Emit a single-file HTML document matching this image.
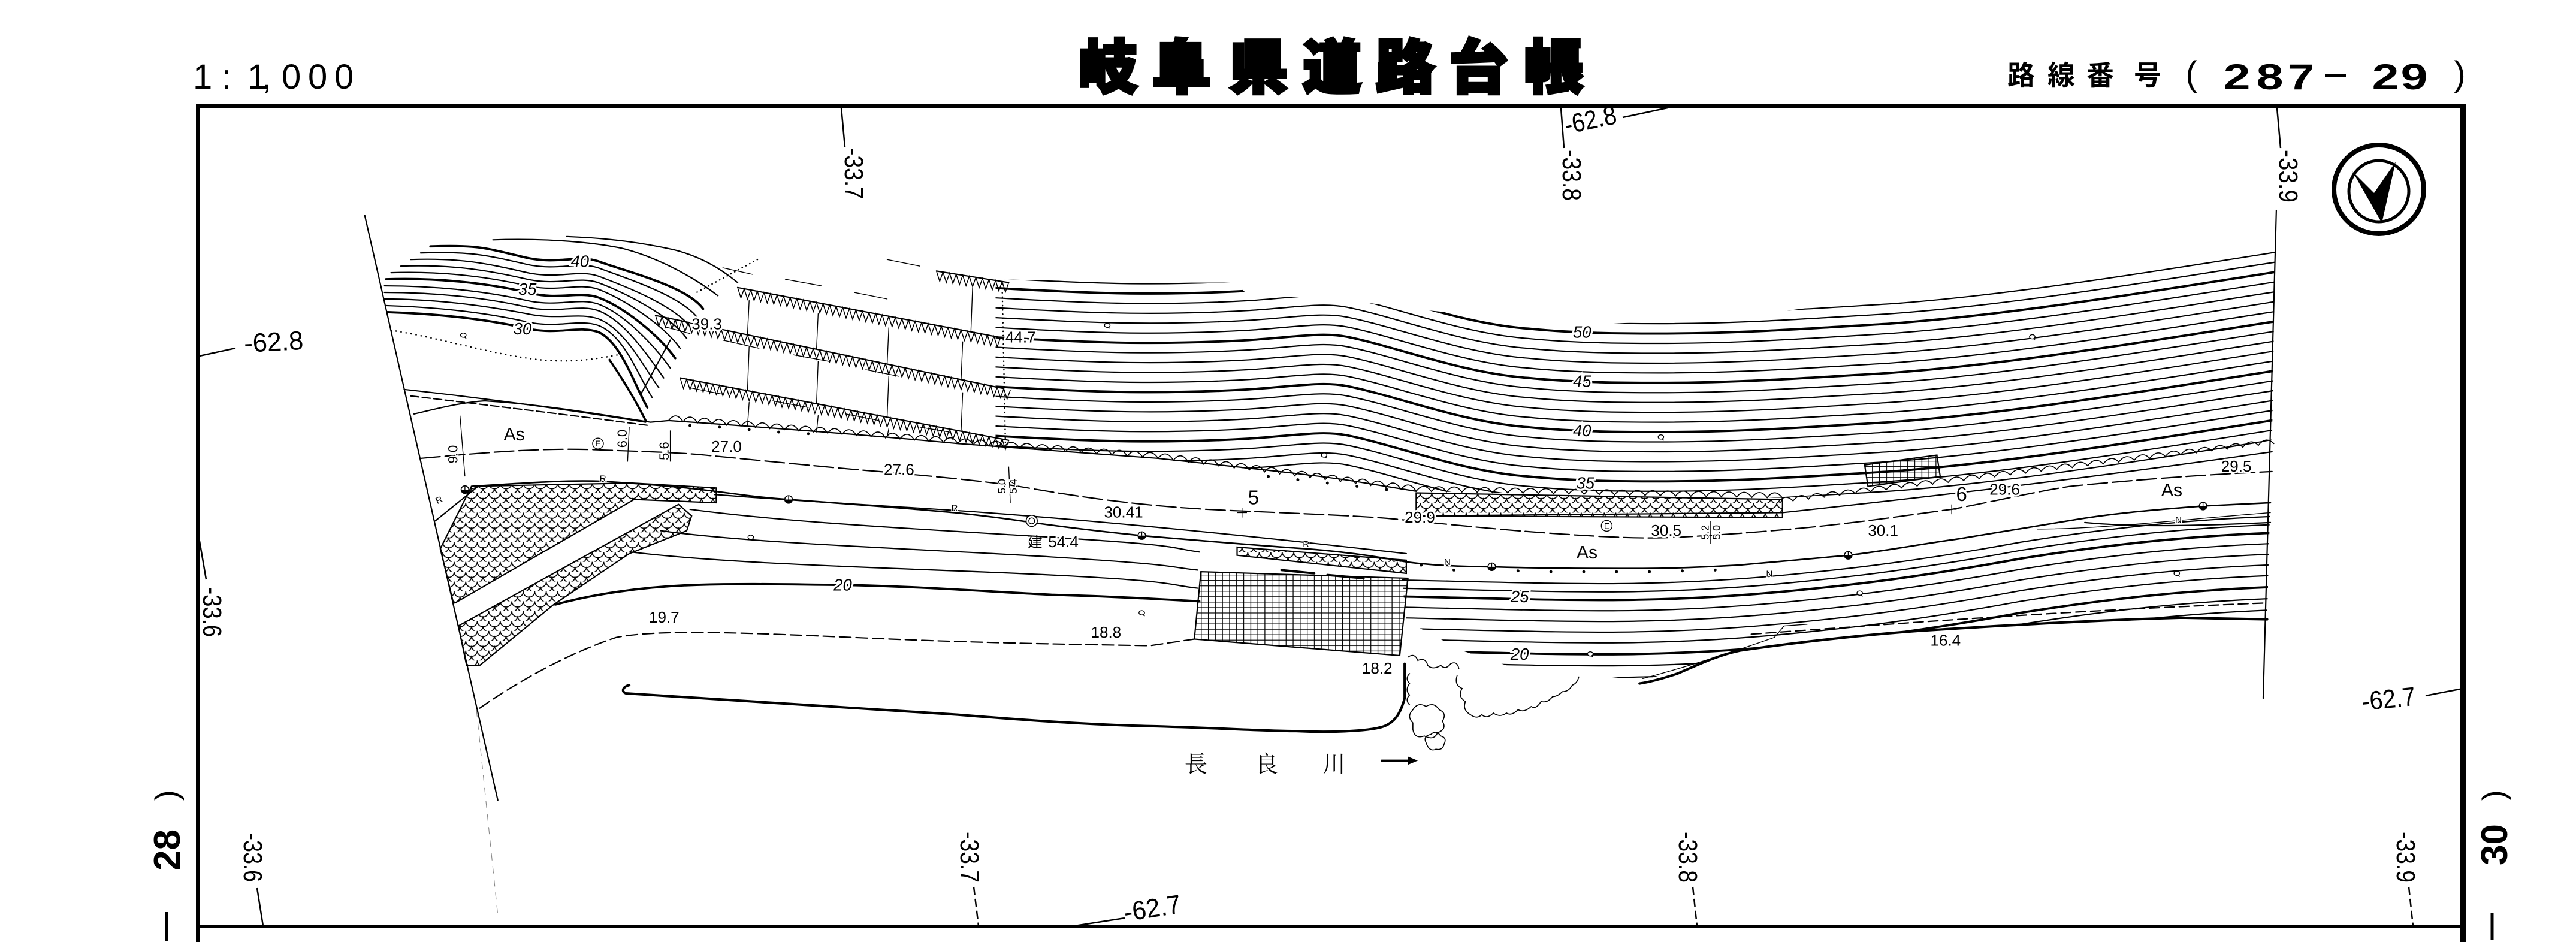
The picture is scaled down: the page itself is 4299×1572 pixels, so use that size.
<!DOCTYPE html>
<html><head><meta charset="utf-8"><title>岐阜県道路台帳</title>
<style>html,body{margin:0;padding:0;background:#fff}svg{display:block}</style>
</head><body>
<svg xmlns="http://www.w3.org/2000/svg" width="4299" height="1572" viewBox="0 0 4299 1572">
<rect width="4299" height="1572" fill="#fff"/>

<!-- ===== header ===== -->
<text y="148" font-family="'Liberation Sans',sans-serif" font-size="58" x="322 370 413 437 470 514 558">1:1,000</text>
<g font-family="'Noto Sans CJK JP','Noto Sans CJK SC',sans-serif" font-weight="900" font-size="98" text-anchor="middle" stroke="#000" stroke-width="5">
<text x="1849" y="147">岐</text><text x="1972" y="147">阜</text><text x="2100" y="147">県</text><text x="2223" y="147">道</text><text x="2345" y="147">路</text><text x="2467" y="147">台</text><text x="2593" y="147">帳</text>
</g>
<g font-family="'Liberation Sans','Noto Sans CJK JP',sans-serif" font-weight="bold" text-anchor="middle">
<g font-size="46"><text x="3373" y="142">路</text><text x="3440" y="142">線</text><text x="3505" y="142">番</text><text x="3584" y="142">号</text></g>
<g font-size="60">
<text transform="translate(3733,149) scale(1.35,1)">2</text>
<text transform="translate(3788,149) scale(1.35,1)">8</text>
<text transform="translate(3840,149) scale(1.35,1)">7</text>
<text transform="translate(3981,149) scale(1.35,1)">2</text>
<text transform="translate(4029,149) scale(1.35,1)">9</text>
</g>
<text x="3657" y="143" font-size="58" font-weight="normal">(</text>
<text x="4105" y="143" font-size="58" font-weight="normal">)</text>
</g>
<line x1="3880" y1="126" x2="3915" y2="126" stroke="#000" stroke-width="5"/>

<!-- ===== frame ===== -->
<rect x="327" y="173" width="3789" height="7" fill="#000"/>
<rect x="327" y="173" width="6" height="1399" fill="#000"/>
<rect x="4106" y="173" width="10" height="1399" fill="#000"/>
<rect x="327" y="1544" width="3789" height="5" fill="#000"/>

<!-- page numbers -->
<g font-family="'Liberation Sans',sans-serif" font-weight="bold">
<text transform="translate(300,1453) rotate(-90)" font-size="62">28</text>
<text transform="translate(296,1336) rotate(-90)" font-size="53" font-weight="normal">)</text>
<text transform="translate(4184,1444) rotate(-90)" font-size="62">30</text>
<text transform="translate(4180,1336) rotate(-90)" font-size="53" font-weight="normal">)</text>
</g>
<line x1="278" y1="1522" x2="278" y2="1570" stroke="#000" stroke-width="5"/>
<line x1="4159" y1="1523" x2="4159" y2="1568" stroke="#000" stroke-width="5"/>

<!-- grid ticks & labels -->
<g stroke="#000" stroke-width="2.5" fill="none">
<path d="M1404,180 L1410,245"/><path d="M2605,180 L2610,247"/><path d="M3800,180 L3806,247"/>
<path d="M333,594 L393,581"/><path d="M333,903 L344,967"/>
<path d="M429,1482 L439,1545"/><path d="M1625,1480 L1633,1545" stroke-dasharray="14,6"/><path d="M2825,1480 L2832,1545" stroke-dasharray="14,6"/><path d="M4020,1480 L4027,1545" stroke-dasharray="14,6"/>
<path d="M2708,196 L2783,180"/><path d="M1781,1547 L1877,1532"/><path d="M4048,1161 L4105,1150"/>
</g>
<g font-family="'Liberation Sans',sans-serif" font-size="44">
<text transform="translate(1410,247) rotate(90)" textLength="85" lengthAdjust="spacingAndGlyphs">-33.7</text>
<text transform="translate(2608,250) rotate(90)" textLength="85" lengthAdjust="spacingAndGlyphs">-33.8</text>
<text transform="translate(3804,250) rotate(90)" textLength="88" lengthAdjust="spacingAndGlyphs">-33.9</text>
<text transform="translate(339,980) rotate(90)" textLength="83" lengthAdjust="spacingAndGlyphs">-33.6</text>
<text transform="translate(407,1390) rotate(90)" textLength="82" lengthAdjust="spacingAndGlyphs">-33.6</text>
<text transform="translate(1603,1388) rotate(90)" textLength="85" lengthAdjust="spacingAndGlyphs">-33.7</text>
<text transform="translate(2802,1388) rotate(90)" textLength="85" lengthAdjust="spacingAndGlyphs">-33.8</text>
<text transform="translate(4000,1388) rotate(90)" textLength="85" lengthAdjust="spacingAndGlyphs">-33.9</text>
<text transform="translate(408,588) rotate(-3)" textLength="99" lengthAdjust="spacingAndGlyphs">-62.8</text>
<text transform="translate(2614,224) rotate(-12)" textLength="88" lengthAdjust="spacingAndGlyphs">-62.8</text>
<text transform="translate(1878,1538) rotate(-9)" textLength="96" lengthAdjust="spacingAndGlyphs">-62.7</text>
<text transform="translate(3943,1186) rotate(-6)" textLength="90" lengthAdjust="spacingAndGlyphs">-62.7</text>
</g>

<!-- north arrow -->
<ellipse cx="3970" cy="316" rx="75" ry="74" fill="none" stroke="#000" stroke-width="8"/>
<ellipse cx="3970" cy="319" rx="50" ry="51" fill="none" stroke="#000" stroke-width="5"/>
<path d="M3926,286 L3962,322 L3998,270 L3975,372 Z" fill="#000"/>

<!-- ===== drawing body (thumbnail coordinates) ===== -->
<g transform="scale(2.7417)">
<defs>
<path id="U" d="M600,222 C640,224 690,228 760,224 C790,222 805,219 820,222 C850,228 890,244 930,247 C960,250 990,250 1010,250 C1060,250 1100,247 1150,244 C1220,239 1300,226 1395,211"/>
<path id="SR" d="M850,349 C900,350 960,352 1000,351 C1050,350 1090,346 1125,342 C1160,338 1192,333 1230,326 C1280,318 1330,312 1392,310"/>
<clipPath id="cU"><polygon points="606,170 700,172 752,172 760,180 800,181 830,184 860,188 900,192 963,198 1000,196 1060,193 1110,186 1185,176 1280,162 1385,147 1383,268 1340,276 1250,290 1180,298 1085,303 862,299 825,293 705,279 606,272"/></clipPath>
<clipPath id="cS"><polygon points="852,340 1382,300 1380,377 1328,376 1168,384 1094,390 1059,397 1021,408 1000,414 920,406 890,396 856,378"/></clipPath>
<pattern id="sc" width="7" height="6" patternUnits="userSpaceOnUse">
<path d="M0,3 A3.5,3.5 0 0 0 7,3 M-3.5,6 A3.5,3.5 0 0 0 3.5,6 M3.5,6 A3.5,3.5 0 0 0 10.5,6 M-3.5,0 A3.5,3.5 0 0 0 3.5,0 M3.5,0 A3.5,3.5 0 0 0 10.5,0" fill="none" stroke="#000" stroke-width="0.6"/>
</pattern>
<pattern id="gr" width="4.3" height="3.3" patternUnits="userSpaceOnUse">
<path d="M0.2,0 V3.3 M0,0.2 H4.3" stroke="#000" stroke-width="0.5" fill="none"/>
</pattern>
<g id="q"><ellipse cx="0" cy="0" rx="1.7" ry="1.3" fill="#fff" stroke="#000" stroke-width="0.5"/><path d="M0.6,1.1 l1.2,0.9" stroke="#000" stroke-width="0.5"/></g>
<g id="m"><circle r="2.3" fill="#fff" stroke="#000" stroke-width="0.6"/><path d="M-2.3,0 A2.3,2.3 0 0 0 2.3,0 Z" fill="#000"/><path d="M0,-2.3 V0" stroke="#000" stroke-width="0.5"/></g>
<g id="e"><circle r="3.3" fill="#fff" stroke="#000" stroke-width="0.5"/><text y="1.8" font-size="5" text-anchor="middle" font-family="'Liberation Sans',sans-serif">E</text></g>
</defs>

<g fill="none" stroke="#000" stroke-width="0.8" stroke-linecap="round">
<!-- boundaries -->
<path d="M222,131 L303,487"/>
<path d="M1385.6,128 L1377.6,425"/>
<path d="M290,432 L303,557" stroke="#888" stroke-width="0.4" stroke-dasharray="4,4"/>

<!-- upper right contour band -->
<g clip-path="url(#cU)">
<use href="#U" y="-59"/><use href="#U" y="-53"/><use href="#U" y="-47" stroke-width="1.4"/><use href="#U" y="-41"/><use href="#U" y="-35"/><use href="#U" y="-29"/><use href="#U" y="-23"/><use href="#U" y="-17" stroke-width="1.4"/><use href="#U" y="-11"/><use href="#U" y="-5"/><use href="#U" y="1"/><use href="#U" y="7"/><use href="#U" y="13" stroke-width="1.4"/><use href="#U" y="19"/><use href="#U" y="25"/><use href="#U" y="31"/><use href="#U" y="37"/><use href="#U" y="43" stroke-width="1.4"/><use href="#U" y="49"/><use href="#U" y="55"/><use href="#U" y="61"/>
</g>
<path d="M610,173 L612,270" stroke-width="0.9" stroke-dasharray="0.1,2.5"/>

<!-- top-left contours -->
<path d="M300,146 C330,145 358,147 378,151 C398,156 420,167 437,180"/>
<path d="M345,144 C372,145 392,148 410,152 C426,156 438,163 449,172"/>
<path stroke-width="1.4" d="M262,150 C292,149 295,151 321,157 C340,161 352,155 364,159 C380,165 418,174 428,188"/>
<path d="M256,154 C286,153 295,155 321,161 C340,165 352,159 364,163 C380,169 415,180 425,194"/>
<path d="M250,158 C280,157 295,160 321,166 C340,170 352,164 364,168 C380,174 411,186 421,200"/>
<path d="M244,162 C274,161 295,164 321,170 C340,174 352,168 364,172 C380,178 408,192 418,206"/>
<path d="M238,166 C268,165 295,168 321,174 C340,178 352,172 364,176 C380,182 404,198 414,212"/>
<path stroke-width="1.4" d="M235,170 C265,169 295,172 321,178 C340,183 352,177 364,181 C380,187 401,204 411,218"/>
<path d="M234,174 C264,174 295,177 321,183 C340,187 352,181 364,185 C380,191 398,210 408,224"/>
<path d="M234,178 C264,178 295,181 321,187 C340,191 352,185 364,189 C380,195 394,216 404,230"/>
<path d="M234,182 C264,182 295,186 321,191 C340,195 352,190 364,194 C380,200 391,222 401,236"/>
<path d="M235,186 C265,187 295,190 321,196 C340,200 352,194 364,198 C380,204 388,228 397,242"/>
<path stroke-width="1.4" d="M236,190 C266,191 295,194 321,200 C340,204 352,198 364,202 C378,208 386,234 394,248"/>
<path d="M238,201 C270,206 300,216 329,219 C350,221 365,218 376,216" stroke-width="0.9" stroke-dasharray="0.1,3"/>
<path d="M461,158 L424,178" stroke-width="0.9" stroke-dasharray="0.1,2.5"/>
<path d="M371,219 C380,232 388,246 393,256" stroke-width="1.3"/>
<path d="M390,240 L408,207"/>

<!-- terraced slope: zigzag rows -->
<path d="M449,175 L609,205.4 M399,192 L611,236.5 M414,230 L614,268 M570,165 L614,172"/>
<path stroke-width="0.55" d="M449,175 l2,6.38 l2,-5.62 l2,6.38 l2,-5.62 l2,6.38 l2,-5.62 l2,6.38 l2,-5.62 l2,6.38 l2,-5.62 l2,6.38 l2,-5.62 l2,6.38 l2,-5.62 l2,6.38 l2,-5.62 l2,6.38 l2,-5.62 l2,6.38 l2,-5.62 l2,6.38 l2,-5.62 l2,6.38 l2,-5.62 l2,6.38 l2,-5.62 l2,6.38 l2,-5.62 l2,6.38 l2,-5.62 l2,6.38 l2,-5.62 l2,6.38 l2,-5.62 l2,6.38 l2,-5.62 l2,6.38 l2,-5.62 l2,6.38 l2,-5.62 l2,6.38 l2,-5.62 l2,6.38 l2,-5.62 l2,6.38 l2,-5.62 l2,6.38 l2,-5.62 l2,6.38 l2,-5.62 l2,6.38 l2,-5.62 l2,6.38 l2,-5.62 l2,6.38 l2,-5.62 l2,6.38 l2,-5.62 l2,6.38 l2,-5.62 l2,6.38 l2,-5.62 l2,6.38 l2,-5.62 l2,6.38 l2,-5.62 l2,6.38 l2,-5.62 l2,6.38 l2,-5.62 l2,6.38 l2,-5.62 l2,6.38 l2,-5.62 l2,6.38 l2,-5.62 l2,6.38 l2,-5.62 l2,6.38 l2,-5.62"/>
<path stroke-width="0.55" d="M399,192 l2,6.42 l2,-5.58 l2,6.42 l2,-5.58 l2,6.42 l2,-5.58 l2,6.42 l2,-5.58 l2,6.42 l2,-5.58 l2,6.42 l2,-5.58 l2,6.42 l2,-5.58 l2,6.42 l2,-5.58 l2,6.42 l2,-5.58 l2,6.42 l2,-5.58 l2,6.42 l2,-5.58 l2,6.42 l2,-5.58 l2,6.42 l2,-5.58 l2,6.42 l2,-5.58 l2,6.42 l2,-5.58 l2,6.42 l2,-5.58 l2,6.42 l2,-5.58 l2,6.42 l2,-5.58 l2,6.42 l2,-5.58 l2,6.42 l2,-5.58 l2,6.42 l2,-5.58 l2,6.42 l2,-5.58 l2,6.42 l2,-5.58 l2,6.42 l2,-5.58 l2,6.42 l2,-5.58 l2,6.42 l2,-5.58 l2,6.42 l2,-5.58 l2,6.42 l2,-5.58 l2,6.42 l2,-5.58 l2,6.42 l2,-5.58 l2,6.42 l2,-5.58 l2,6.42 l2,-5.58 l2,6.42 l2,-5.58 l2,6.42 l2,-5.58 l2,6.42 l2,-5.58 l2,6.42 l2,-5.58 l2,6.42 l2,-5.58 l2,6.42 l2,-5.58 l2,6.42 l2,-5.58 l2,6.42 l2,-5.58 l2,6.42 l2,-5.58 l2,6.42 l2,-5.58 l2,6.42 l2,-5.58 l2,6.42 l2,-5.58 l2,6.42 l2,-5.58 l2,6.42 l2,-5.58 l2,6.42 l2,-5.58 l2,6.42 l2,-5.58 l2,6.42 l2,-5.58 l2,6.42 l2,-5.58 l2,6.42 l2,-5.58 l2,6.42 l2,-5.58 l2,6.42 l2,-5.58 l2,6.42 l2,-5.58"/>
<path stroke-width="0.55" d="M414,230 l2,6.38 l2,-5.62 l2,6.38 l2,-5.62 l2,6.38 l2,-5.62 l2,6.38 l2,-5.62 l2,6.38 l2,-5.62 l2,6.38 l2,-5.62 l2,6.38 l2,-5.62 l2,6.38 l2,-5.62 l2,6.38 l2,-5.62 l2,6.38 l2,-5.62 l2,6.38 l2,-5.62 l2,6.38 l2,-5.62 l2,6.38 l2,-5.62 l2,6.38 l2,-5.62 l2,6.38 l2,-5.62 l2,6.38 l2,-5.62 l2,6.38 l2,-5.62 l2,6.38 l2,-5.62 l2,6.38 l2,-5.62 l2,6.38 l2,-5.62 l2,6.38 l2,-5.62 l2,6.38 l2,-5.62 l2,6.38 l2,-5.62 l2,6.38 l2,-5.62 l2,6.38 l2,-5.62 l2,6.38 l2,-5.62 l2,6.38 l2,-5.62 l2,6.38 l2,-5.62 l2,6.38 l2,-5.62 l2,6.38 l2,-5.62 l2,6.38 l2,-5.62 l2,6.38 l2,-5.62 l2,6.38 l2,-5.62 l2,6.38 l2,-5.62 l2,6.38 l2,-5.62 l2,6.38 l2,-5.62 l2,6.38 l2,-5.62 l2,6.38 l2,-5.62 l2,6.38 l2,-5.62 l2,6.38 l2,-5.62 l2,6.38 l2,-5.62 l2,6.38 l2,-5.62 l2,6.38 l2,-5.62 l2,6.38 l2,-5.62 l2,6.38 l2,-5.62 l2,6.38 l2,-5.62 l2,6.38 l2,-5.62 l2,6.38 l2,-5.62 l2,6.38 l2,-5.62 l2,6.38 l2,-5.62"/>
<path stroke-width="0.55" d="M570,165 l2,6.32 l2,-5.68 l2,6.32 l2,-5.68 l2,6.32 l2,-5.68 l2,6.32 l2,-5.68 l2,6.32 l2,-5.68 l2,6.32 l2,-5.68 l2,6.32 l2,-5.68 l2,6.32 l2,-5.68 l2,6.32 l2,-5.68 l2,6.32 l2,-5.68 l2,6.32 l2,-5.68"/>
<g stroke-width="0.5">
<path d="M456,183 L455,203.6 M456,211 L455,237.5 M456,245 L455,259.5"/>
<path d="M498,191 L497,212.5 M498,220 L497,245.5 M498,253 L497,263"/>
<path d="M541,199.5 L540,221.6 M541,229 L540,253.8 M541,261 L540,266"/>
<path d="M586,208 L585,231 M586,239 L585,262.4 M592,175 L591,201.5"/>
<path d="M440,163 L458,167 M478,170 L500,174 M520,178 L540,182 M405,199 L420,203 M440,207 L462,212 M483,216 L505,220 M527,225 L547,229 M420,236 L440,240 M470,244 L492,248 M515,252 L535,256 M560,260 L578,263 M540,158 L560,162"/>
</g>

<!-- road -->
<path d="M246,237 C300,243 350,250 393,257"/>
<path d="M250,241 C300,247 350,253 395,259" stroke-dasharray="5,2"/>
<path d="M252,252 C265,249 280,245 295,244 C330,246 370,253 396,257 L407,256 C450,259 520,264 583,270 C640,274 680,277 705,279 C760,285 800,289 825,293 L862,299"/>
<path d="M862,314 L1085,312 C1150,305 1250,294 1383,275"/>
<path d="M256,279 C290,276 330,272 368,274 C400,275 420,276 429,277 C470,281 510,285 535,287 C570,290 600,293 620,296 C660,303 700,309 756,311 C800,313 830,314 850,316 C890,320 920,323 950,325 C980,327 1000,328 1021,327 C1060,325 1090,322 1101,321 C1140,317 1165,313 1188,310 C1215,305 1235,300 1260,296 C1300,292 1340,289 1383,287" stroke-dasharray="12,3"/>
<path d="M287,296 C320,294 345,292 367,293 C400,295 420,297 435,299 C450,301 465,303 480,304 C520,307 560,310 581,312 C600,314 615,316 628,318 C650,321 675,324 695,326 C730,329 765,332 795,334 C820,336 840,339 856,342 C870,344 890,345 908,345 C940,346 970,346 1000,346 C1020,346 1040,345 1058,344 C1080,342 1105,340 1125,338 C1150,335 1170,331 1192,328 C1215,324 1240,320 1265,316 C1290,312 1315,310 1341,308 L1382,306" stroke-width="0.95"/>
<path d="M435,301 C500,306 560,309 600,312 C680,318 760,326 856,337"/>
<path d="M265,317 L291,296"/>
<path d="M1269,318 C1300,321 1340,320 1382,318"/>
<path d="M1240,322 C1280,322 1330,316 1382,312" stroke-width="0.5"/>

<!-- retaining wall bumps -->
<g stroke-width="0.6">
<path d="M407,256 q4.4,-6 8.8,0.7 q4.4,-6 8.8,0.7 q4.4,-6 8.8,0.7 q4.4,-6 8.8,0.7 q4.4,-6 8.8,0.7 q4.4,-6 8.8,0.7 q4.4,-6 8.8,0.7 q4.4,-6 8.8,0.7 q4.4,-6 8.8,0.7 q4.4,-6 8.8,0.7 q4.4,-6 8.8,0.7 q4.4,-6 8.8,0.7 q4.4,-6 8.8,0.7 q4.4,-6 8.8,0.7 q4.4,-6 8.8,0.7 q4.4,-6 8.8,0.7 q4.4,-6 8.8,0.7 q4.4,-6 8.8,0.7 q4.4,-6 8.8,0.7 q4.4,-6 8.8,0.7"/>
<path d="M583,270 q4.7,-6 9.38,0.69 q4.7,-6 9.38,0.69 q4.7,-6 9.38,0.69 q4.7,-6 9.38,0.69 q4.7,-6 9.38,0.69 q4.7,-6 9.38,0.69 q4.7,-6 9.38,0.69 q4.7,-6 9.38,0.69 q4.7,-6 9.38,0.69 q4.7,-6 9.38,0.69 q4.7,-6 9.38,0.69 q4.7,-6 9.38,0.69 q4.7,-6 9.38,0.69"/>
<path d="M705,279 q4.6,-6 9.24,1.18 q4.6,-6 9.24,1.18 q4.6,-6 9.24,1.18 q4.6,-6 9.24,1.18 q4.6,-6 9.24,1.18 q4.6,-6 9.24,1.18 q4.6,-6 9.24,1.18 q4.6,-6 9.24,1.18 q4.6,-6 9.24,1.18 q4.6,-6 9.24,1.18 q4.6,-6 9.24,1.18 q4.6,-6 9.24,1.18 q4.6,-6 9.24,1.18 q4.6,-6 9.24,1.18 q4.6,-6 9.24,1.18 q4.6,-6 9.24,1.18 q4.6,-6 9.24,1.18"/>
<path d="M862,299 q4.6,-6 9.29,0.17 q4.6,-6 9.29,0.17 q4.6,-6 9.29,0.17 q4.6,-6 9.29,0.17 q4.6,-6 9.29,0.17 q4.6,-6 9.29,0.17 q4.6,-6 9.29,0.17 q4.6,-6 9.29,0.17 q4.6,-6 9.29,0.17 q4.6,-6 9.29,0.17 q4.6,-6 9.29,0.17 q4.6,-6 9.29,0.17 q4.6,-6 9.29,0.17 q4.6,-6 9.29,0.17 q4.6,-6 9.29,0.17 q4.6,-6 9.29,0.17 q4.6,-6 9.29,0.17 q4.6,-6 9.29,0.17 q4.6,-6 9.29,0.17 q4.6,-6 9.29,0.17 q4.6,-6 9.29,0.17 q4.6,-6 9.29,0.17 q4.6,-6 9.29,0.17 q4.6,-6 9.29,0.17"/>
<path d="M1082,306 q4.7,-6 9.44,-1.125 q4.7,-6 9.44,-1.125 q4.7,-6 9.44,-1.125 q4.7,-6 9.44,-1.125 q4.7,-6 9.44,-1.125 q4.7,-6 9.44,-1.125 q4.7,-6 9.44,-1.125 q4.7,-6 9.44,-1.125 q4.7,-6 9.44,-1.125 q4.7,-6 9.44,-1.125 q4.7,-6 9.44,-1.125 q4.7,-6 9.44,-1.125 q4.7,-6 9.44,-1.125 q4.7,-6 9.44,-1.125 q4.7,-6 9.44,-1.125 q4.7,-6 9.44,-1.125 q4.7,-6 9.44,-1.125 q4.7,-6 9.44,-1.125 q4.7,-6 9.44,-1.125 q4.7,-6 9.44,-1.125 q4.7,-6 9.44,-1.125 q4.7,-6 9.44,-1.125 q4.7,-6 9.44,-1.125 q4.7,-6 9.44,-1.125 q4.7,-6 9.44,-1.125 q4.7,-6 9.44,-1.125 q4.7,-6 9.44,-1.125 q4.7,-6 9.44,-1.125 q4.7,-6 9.44,-1.125 q4.7,-6 9.44,-1.125 q4.7,-6 9.44,-1.125 q4.7,-6 9.44,-1.125"/>
</g>

<!-- hatched (scale) areas -->
<polygon points="287,296 385,294 436,297 436,306 386,304 277,367 276,367 268,334 281,308" fill="url(#sc)"/>
<polygon points="413,307 421,314 418,323 383,337 337,368 292,405 284,405 279,381" fill="url(#sc)"/>
<polygon points="862,300 1085,304 1085,315 862,314" fill="url(#sc)"/>
<polygon points="753,333 856,341 856,349 753,338" fill="url(#sc)"/>

<!-- grids -->
<polygon points="731,348 857,352 852,399 727,389" fill="url(#gr)"/>
<polygon points="1135,283 1179,277 1181,290 1137,296" fill="url(#gr)"/>

<!-- south-left contours -->
<path d="M420,310 C480,318 560,322 640,327 S710,333 730,336"/>
<path d="M402,323 C460,331 560,334 640,339 S710,345 729,347"/>
<path d="M384,336 C450,344 560,346 640,350 S710,356 729,358"/>
<path stroke-width="1.4" d="M338,368 C360,362 390,357 424,356 C460,355 490,356 513,356 C560,357 600,360 640,362 C680,363 710,365 730,366"/>
<path d="M292,431 C315,415 345,398 375,388 C400,383 450,385 520,388 C583,391 640,392 700,393 L727,389" stroke-dasharray="7,3"/>
<path stroke-width="1.5" d="M383,417 C379,418 378,421 381,422 C420,424 500,430 583,435 C620,438 660,441 700,442 C740,443 770,445 789,445 C810,446 830,445 839,443 C850,441 853,432 855,425 L855,404"/>
<path d="M780,347 L800,349 M808,350 L830,352" stroke-width="1.4"/>

<!-- south-right contours -->
<g clip-path="url(#cS)">
<use href="#SR" y="4"/><use href="#SR" y="9"/><use href="#SR" y="14" stroke-width="1.4"/><use href="#SR" y="20.5"/><use href="#SR" y="27"/><use href="#SR" y="33.5"/><use href="#SR" y="40"/><use href="#SR" y="47" stroke-width="1.4"/><use href="#SR" y="54"/><use href="#SR" y="61"/><use href="#SR" y="68"/>
</g>
<path stroke-width="1.5" d="M998,416 C1005,415 1015,412 1021,410 C1035,404 1045,399 1059,396 C1100,390 1140,386 1168,384 C1230,380 1290,377 1328,376 L1380,377"/>
<path d="M1066,386 C1150,380 1250,372 1380,367" stroke-dasharray="6,3"/>
<path d="M1000,413 C1030,405 1060,395 1080,388 L1086,381 L1100,380" stroke-width="0.5"/>

<!-- bushes -->
<g stroke-width="0.6">
<path d="M887,411 q-2,6 3,8 q-3,5 2,8 q-2,5 3,8 q4,3 7,0 q3,3 7,-1 q4,3 8,0 q3,2 7,-2 q4,2 8,-2 q3,2 6,-3 q4,1 7,-3 q3,0 6,-3 q4,0 6,-4 q3,-1 4,-5"/>
<path d="M857,400 q4,-3 6,2 q5,-2 6,3 q3,3 8,0 q3,3 6,-1 q4,-2 5,3"/>
<path d="M860,440 q-4,-4 0,-8 q3,-5 8,-2 q5,-3 8,2 q5,2 2,7 q3,5 -3,7 q-2,5 -8,2 q-6,2 -7,-4 z"/>
<path d="M868,452 q-2,-4 3,-5 q3,-3 6,1 q4,1 2,5 q-1,4 -5,3 q-4,2 -6,-4 z"/>
<path d="M858,410 q-3,3 0,6 q-3,4 0,7 q-3,3 0,6"/>
</g>
<!-- river arrow -->
<path d="M841,463 L857,463" stroke-width="1.3"/>
</g>
<path d="M857,460.5 L863,463 L857,465.5 Z" fill="#000"/>

<!-- dimension marks -->
<g fill="none" stroke="#000" stroke-width="0.5">
<path d="M280,253 L283,290 M383,260 L382,281 M408,262 L408,281 M614,284 L615,306 M1041,317 L1041,331"/>
<path d="M753,312 h6 M756,309 v6 M1185,310 h6 M1188,307 v6"/>
</g>

<!-- symbols -->
<use href="#q" x="282" y="204"/><use href="#q" x="457" y="327"/><use href="#q" x="674" y="198"/><use href="#q" x="806" y="277"/><use href="#q" x="1011" y="266"/><use href="#q" x="695" y="373"/><use href="#q" x="968" y="398"/><use href="#q" x="1237" y="205"/><use href="#q" x="1325" y="349"/><use href="#q" x="1132" y="361"/>
<use href="#m" x="283" y="298"/><use href="#m" x="480" y="304"/><use href="#m" x="695" y="326"/><use href="#m" x="908" y="345"/><use href="#m" x="1125" y="338"/><use href="#m" x="1341" y="308"/>
<use href="#e" x="364" y="270"/><use href="#e" x="978" y="320"/>
<circle cx="628" cy="317" r="3.4" fill="#fff" stroke="#000" stroke-width="0.6"/><circle cx="628" cy="317" r="1.8" fill="none" stroke="#000" stroke-width="0.5"/>
<g fill="#000">
<circle cx="420" cy="259" r="0.9"/><circle cx="438" cy="260" r="0.9"/><circle cx="456" cy="261.5" r="0.9"/><circle cx="474" cy="263" r="0.9"/><circle cx="492" cy="264" r="0.9"/>
<circle cx="772" cy="290" r="0.9"/><circle cx="790" cy="292" r="0.9"/><circle cx="808" cy="294" r="0.9"/><circle cx="826" cy="296" r="0.9"/><circle cx="844" cy="298" r="0.9"/>
<circle cx="924" cy="347.5" r="0.9"/><circle cx="944" cy="348" r="0.9"/><circle cx="964" cy="348" r="0.9"/><circle cx="984" cy="348" r="0.9"/><circle cx="1004" cy="348" r="0.9"/><circle cx="1024" cy="347.5" r="0.9"/><circle cx="1044" cy="347" r="0.9"/>
<circle cx="865" cy="344" r="0.9"/><circle cx="885" cy="347" r="0.9"/>
</g>

<!-- labels -->
<g font-family="'Liberation Sans',sans-serif" fill="#000" stroke="#fff" stroke-width="2.2" paint-order="stroke">
<g font-style="italic" font-size="10" text-anchor="middle">
<text x="353" y="162.5">40</text><text x="321" y="179.5">35</text><text x="318" y="203.5">30</text>
<text x="963" y="205.5">50</text><text x="963" y="235.5">45</text><text x="963" y="265.5">40</text><text x="965" y="297.5">35</text>
<text x="513" y="359.5">20</text><text x="925" y="366.5">25</text><text x="925" y="401.5">20</text>
</g>
<g font-size="9.5">
<text x="421" y="200.5">39.3</text><text x="612" y="208.5">44.7</text>
<text x="433" y="275">27.0</text><text x="538" y="289">27.6</text><text x="672" y="315">30.41</text><text x="855" y="318">29.9</text>
<text x="1005" y="326">30.5</text><text x="1137" y="326">30.1</text><text x="1211" y="301">29.6</text><text x="1352" y="287">29.5</text>
<text x="395" y="379">19.7</text><text x="664" y="388">18.8</text><text x="829" y="410">18.2</text><text x="1175" y="393">16.4</text>
<text x="638" y="333">54.4</text>
</g>
<g font-size="11" text-anchor="middle">
<text x="313" y="268">As</text><text x="966" y="340">As</text><text x="1322" y="302">As</text>
<text x="763" y="307" font-size="12">5</text><text x="1194" y="305" font-size="12">6</text>
</g>
<g font-size="5.5" text-anchor="middle" stroke-width="1">
<text x="367" y="293">R</text><text x="581" y="311">R</text><text x="795" y="333">R</text>
<text x="881" y="344">N</text><text x="1077" y="351">N</text><text x="1326" y="318">N</text>
<text transform="translate(268,306) rotate(-25)">R</text>
</g>
<g font-size="8" text-anchor="middle" stroke-width="1.2">
<text transform="translate(278.5,276.5) rotate(-90)">9.0</text>
<text transform="translate(381.5,267) rotate(-90)">6.0</text>
<text transform="translate(407,274.5) rotate(-90)">5.6</text>
</g>
<g font-size="6.5" text-anchor="middle" stroke-width="1">
<text transform="translate(612,296) rotate(-90)">5.0</text>
<text transform="translate(619,296) rotate(-90)">5.4</text>
<text transform="translate(1040,324) rotate(-90)">5.2</text>
<text transform="translate(1047,324) rotate(-90)">5.0</text>
</g>
</g>
<text x="630" y="333" font-family="'Noto Sans CJK JP','Noto Sans CJK SC',sans-serif" font-size="9" text-anchor="middle">建</text>
<g font-family="'Liberation Serif','Noto Serif CJK SC','Noto Sans CJK JP',serif" font-size="14" text-anchor="middle">
<text x="728" y="470">長</text><text x="771" y="470">良</text><text x="812" y="470">川</text>
</g>
</g>
</svg>
</body></html>
